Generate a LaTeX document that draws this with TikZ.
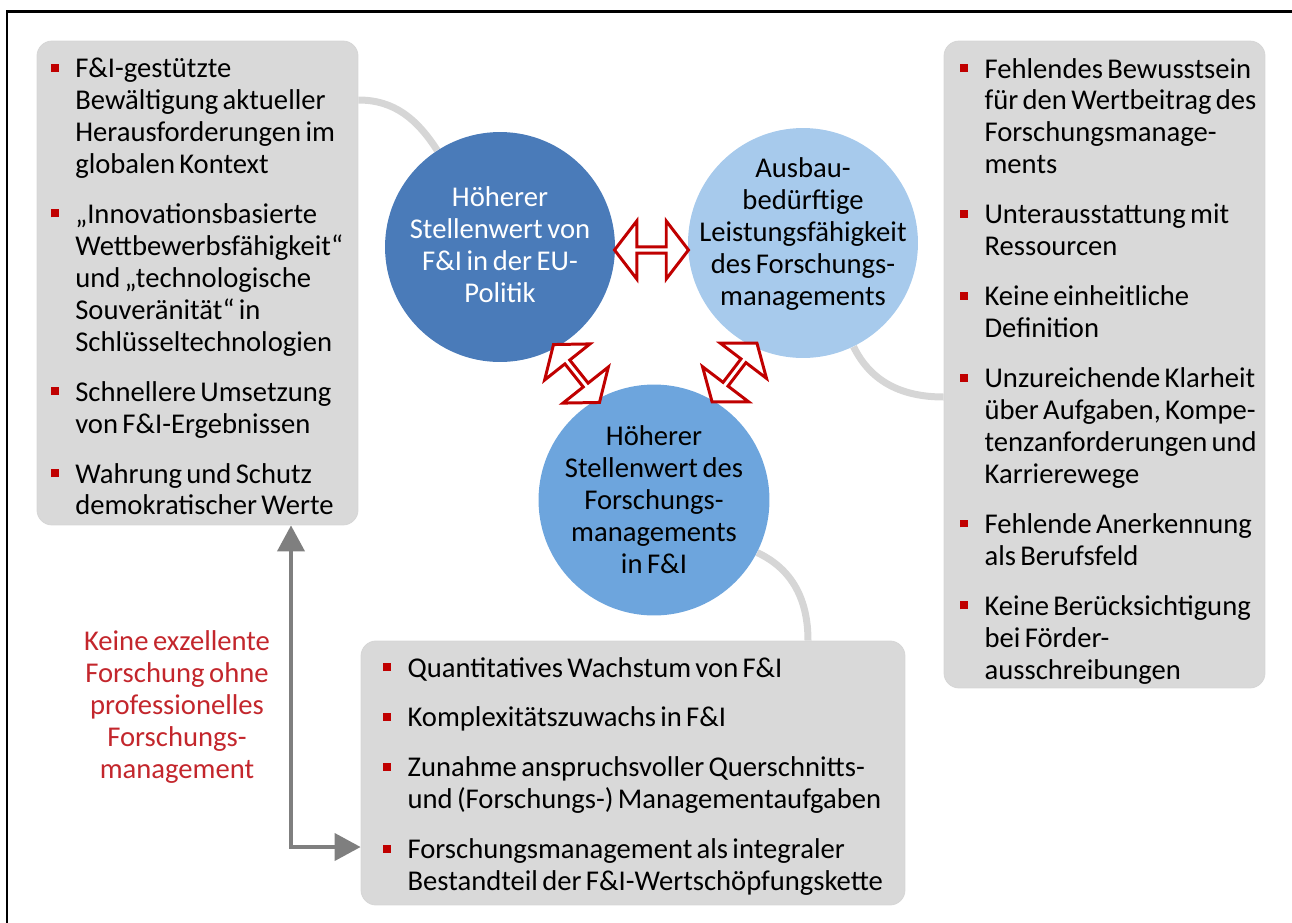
\documentclass[tikz,border=0pt]{standalone}
\usepackage{fontspec}
\setmainfont{Carlito}
\definecolor{PanelGrey}{HTML}{D9D9D9}
\definecolor{BulletRed}{HTML}{C00000}
\definecolor{NoteRed}{HTML}{C3262C}
\definecolor{EUBlue}{HTML}{4A7BB9}
\definecolor{PaleBlue}{HTML}{A7CAEC}
\definecolor{MidBlue}{HTML}{6DA5DD}
\definecolor{LinkGrey}{HTML}{D6D6D6}
\definecolor{ArrowGrey}{HTML}{7F7F7F}
\usetikzlibrary{arrows.meta, positioning, shapes.arrows, backgrounds}

\newcommand{\bodyfont}{\fontsize{16.3}{18.2}\selectfont\spaceskip=0.16em plus 0.04em minus 0.02em\relax}
\newcommand{\bul}{\textcolor{BulletRed}{\rule[3.4pt]{4.5pt}{4.5pt}}}
\newcommand{\listsetup}{\parskip=10.2pt\relax\hyphenpenalty=10000\relax\exhyphenpenalty=10000\relax
  \spaceskip=0.15em plus 0.03em minus 0.02em\relax}
\newcommand{\litem}[1]{\noindent\hangindent=13.8pt\relax\hangafter=1\relax\hbox to 13.8pt{\bul\hss}#1\par}

\begin{document}
\begin{tikzpicture}[x=0.02cm, y=0.02cm,
  panel/.style={draw=black!16, fill=PanelGrey, rounded corners=0.3cm, line width=0.5pt},
  bullets/.style={anchor=base west, inner sep=0, text width=#1, align=left, font=\bodyfont},
  disc/.style={circle, minimum size=4.6cm, inner sep=0},
  disctext/.style={align=center, inner sep=0, font=\bodyfont},
  pairarrow/.style={double arrow, draw=BulletRed, fill=white, line width=1.7pt,
    minimum height=1.48cm, minimum width=1.16cm, double arrow head extend=0.25cm,
    double arrow tip angle=105, inner sep=0},
  link/.style={draw=LinkGrey, line width=0.14cm},
  feed/.style={draw=ArrowGrey, line width=0.08cm,
    {Triangle[length=0.52cm, width=0.54cm]}-{Triangle[length=0.52cm, width=0.54cm]}}]
  \useasboundingbox (0,0) rectangle (1292,-923);
  \draw[line width=0.06cm] (7,-923) -- (7,-11) -- (1292,-11);

  \node[panel, minimum width=6.42cm, minimum height=9.68cm] (lbox) at (197.5,-283) {};
  \node[panel, minimum width=6.42cm, minimum height=12.94cm] (rbox) at (1104.5,-364.5) {};
  \node[panel, minimum width=10.88cm, minimum height=5.28cm] (bbox) at (633,-773) {};

  \node[bullets=8cm] (llist) at (50.7,-77.5) {\listsetup
    \litem{F\&I-gestützte\newline Bewältigung aktueller\newline Herausforderungen im\newline globalen Kontext}
    \litem{„Innovationsbasierte\newline Wettbewerbsfähigkeit“\newline und „technologische\newline Souveränität“ in\newline Schlüsseltechnologien}
    \litem{Schnellere Umsetzung\newline von F\&I-Ergebnissen}
    \litem{Wahrung und Schutz\newline demokratischer Werte}};
  \node[bullets=8cm] (rlist) at (960,-78) {\listsetup
    \litem{Fehlendes Bewusstsein\newline für den Wertbeitrag des\newline Forschungsmanage-\newline ments}
    \litem{Unterausstattung mit\newline Ressourcen}
    \litem{Keine einheitliche\newline Definition}
    \litem{Unzureichende Klarheit\newline über Aufgaben, Kompe-\newline tenzanforderungen und\newline Karrierewege}
    \litem{Fehlende Anerkennung\newline als Berufsfeld}
    \litem{Keine Berücksichtigung\newline bei Förder-\newline ausschreibungen}};
  \node[bullets=12cm] (blist) at (383,-677) {\listsetup
    \litem{Quantitatives Wachstum von F\&I}
    \litem{Komplexitätszuwachs in F\&I}
    \litem{Zunahme anspruchsvoller Querschnitts-\newline und (Forschungs-) Managementaufgaben}
    \litem{Forschungsmanagement als integraler\newline Bestandteil der F\&I-Wertschöpfungskette}};

  \node[disc, fill=EUBlue] (c1) at (500,-247) {};
  \node[disc, fill=PaleBlue] (c2) at (803,-243) {};
  \node[disc, fill=MidBlue, minimum size=4.62cm] (c3) at (654,-500) {};
  \node[disctext, text=white] (t1) at (500,-245) {Höherer\\Stellenwert von\\F\&I in der EU-\\Politik};
  \node[disctext] (t2) at (803,-234) {Ausbau-\\bedürftige\\Leistungsfähigkeit\\des Forschungs-\\managements};
  \node[disctext] (t3) at (654,-500) {Höherer\\Stellenwert des\\Forschungs-\\managements\\in F\&I};

  \node[pairarrow] (a12) at (651.5,-250) {};
  \node[pairarrow, rotate=-51.5] (a13) at (576.5,-373.5) {};
  \node[pairarrow, rotate=52.7] (a23) at (734.5,-372.5) {};

  \node[disctext, text=NoteRed] (motto) at (177,-707) {Keine exzellente\\Forschung ohne\\professionelles\\Forschungs-\\management};
  \draw[feed] (lbox.south -| 291,0) |- (bbox.west |- 0,-847);

  \begin{scope}[on background layer]
    \draw[link] (lbox.east |- 0,-100) to[out=0, in=123] (c1.123);
    \draw[link] (c2.-64) to[out=-64, in=180] (rbox.west |- 0,-397);
    \draw[link] (c3.-27) to[out=-25, in=90] (bbox.north -| 808,0);
  \end{scope}
\end{tikzpicture}
\end{document}
